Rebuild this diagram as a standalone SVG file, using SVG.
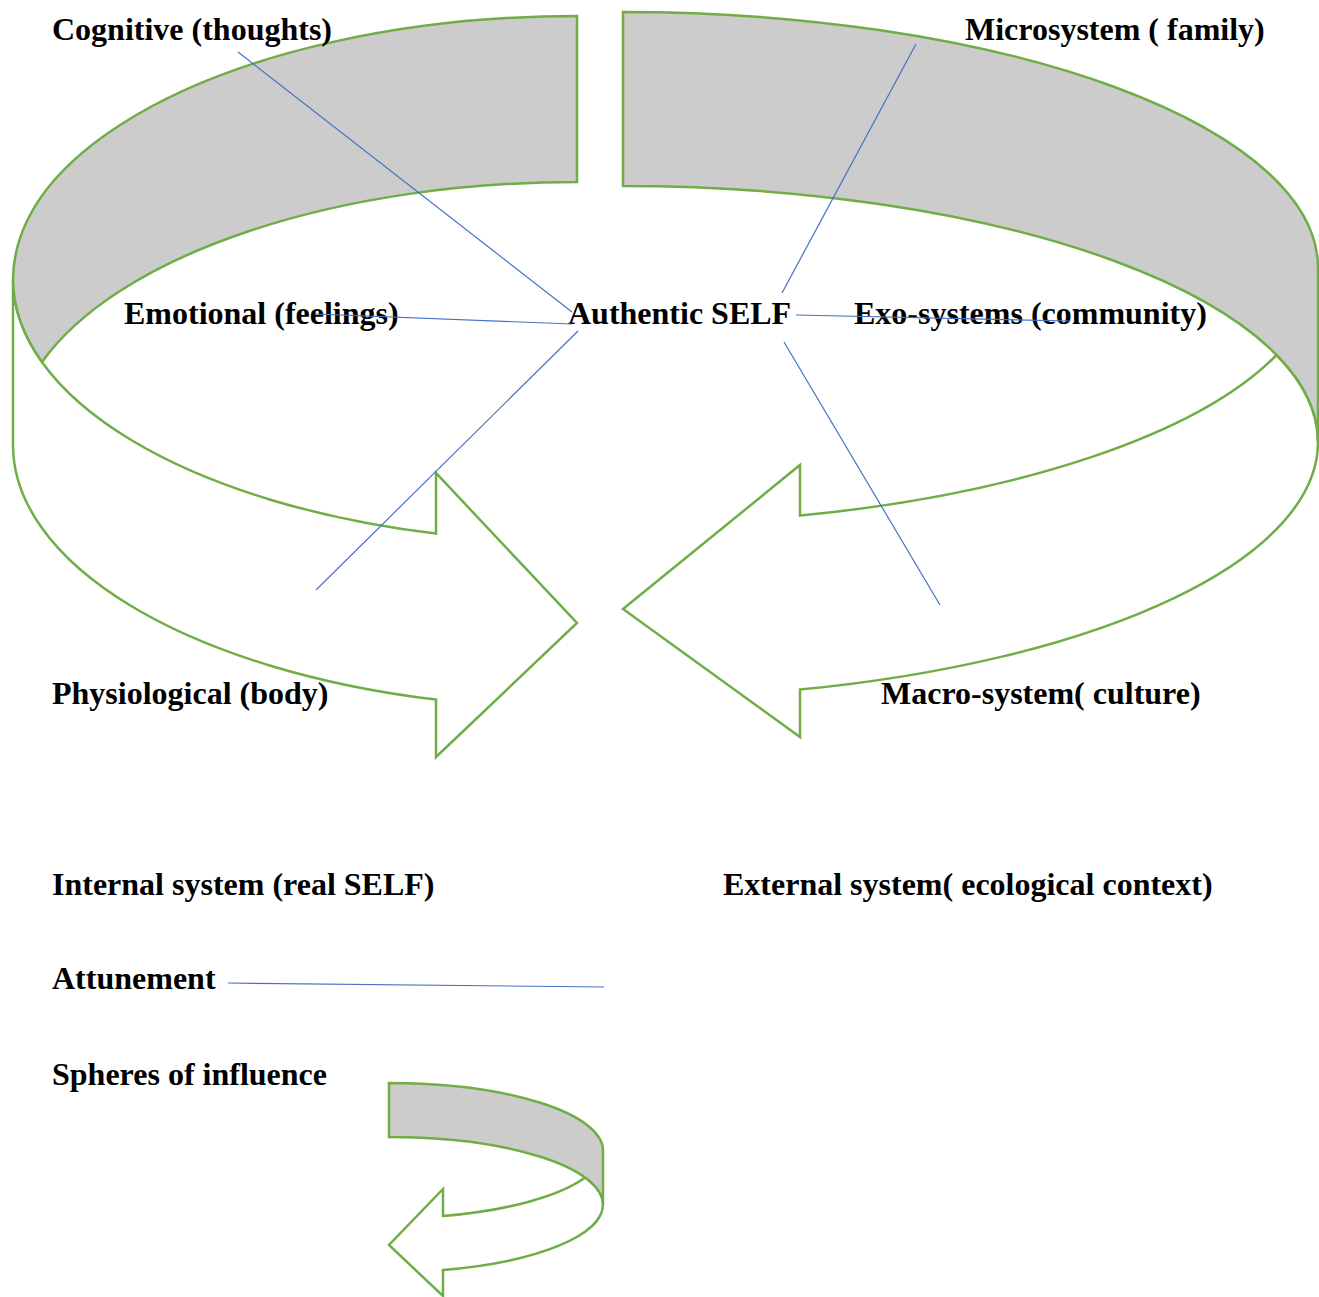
<svg xmlns="http://www.w3.org/2000/svg" width="1319" height="1297" viewBox="0 0 1319 1297">
<style>
.band{fill:#CCCCCC;stroke:#70AD47;stroke-width:2.5;stroke-linejoin:miter}
.front{fill:#FFFFFF;stroke:#70AD47;stroke-width:2.5;stroke-linejoin:miter}
.lbl{font-family:"Liberation Serif","Times New Roman",serif;font-weight:bold;font-size:32px;fill:#000000}
.conn{stroke:#4472C4;stroke-width:1.2;fill:none}
</style>
<rect x="0" y="0" width="1319" height="1297" fill="#FFFFFF"/>
<g id="internal-arrow">
<path class="front" d="M 13,279 L 13,445 A 564,263 0 0 0 436,699.6 L 436,757 L 577,623 L 436,473 L 436,533.6 A 564,263 0 0 1 13,279 Z"/>
<path class="band" d="M 577,16 A 564,263 0 0 0 42,362 A 564,263 0 0 1 577,182 Z"/>
</g>
<g id="external-arrow">
<path class="front" d="M 1276.6,355 A 695,256 0 0 1 800,515.6 L 800,465 L 623,609 L 800,737 L 800,689.6 A 695,256 0 0 0 1318,442 A 695,256 0 0 0 1276.6,355 Z"/>
<path class="band" d="M 623,12 A 695,256 0 0 1 1318,268 L 1318,442 A 695,256 0 0 0 623,186 Z"/>
</g>
<g id="legend-arrow">
<path class="front" d="M 585.2,1177.6 A 214,67.6 0 0 1 443,1216 L 443,1189 L 389,1245 L 443,1296 L 443,1270 A 214,67.6 0 0 0 603,1204.6 A 214,67.6 0 0 0 585.2,1177.6 Z"/>
<path class="band" d="M 389,1083 A 214,67.6 0 0 1 603,1150.6 L 603,1204.6 A 214,67.6 0 0 0 389,1137 Z"/>
</g>
<g id="node-cognitive"><text class="lbl" x="52" y="40">Cognitive (thoughts)</text></g>
<g id="node-microsystem"><text class="lbl" x="965" y="40">Microsystem ( family)</text></g>
<g id="node-emotional"><text class="lbl" x="124" y="324">Emotional (feelings)</text></g>
<g id="node-self"><text class="lbl" x="568" y="324">Authentic SELF</text></g>
<g id="node-exo"><text class="lbl" x="854" y="324">Exo-systems (community)</text></g>
<g id="node-physiological"><text class="lbl" x="52" y="704">Physiological (body)</text></g>
<g id="node-macro"><text class="lbl" x="881" y="704">Macro-system( culture)</text></g>
<g id="legend-internal"><text class="lbl" x="52" y="895">Internal system (real SELF)</text></g>
<g id="legend-external"><text class="lbl" x="723" y="895">External system( ecological context)</text></g>
<g id="legend-attunement"><text class="lbl" x="52" y="989">Attunement</text></g>
<g id="legend-spheres"><text class="lbl" x="52" y="1085">Spheres of influence</text></g>
<g id="connectors">
<line class="conn" x1="238" y1="52" x2="572" y2="312"/>
<line class="conn" x1="315" y1="314" x2="572" y2="324"/>
<line class="conn" x1="578" y1="331" x2="316" y2="590"/>
<line class="conn" x1="916" y1="44" x2="782" y2="293"/>
<line class="conn" x1="796" y1="315" x2="1070" y2="321"/>
<line class="conn" x1="784" y1="342" x2="940" y2="605"/>
<line class="conn" x1="228" y1="983" x2="604" y2="987"/>
</g>
</svg>
